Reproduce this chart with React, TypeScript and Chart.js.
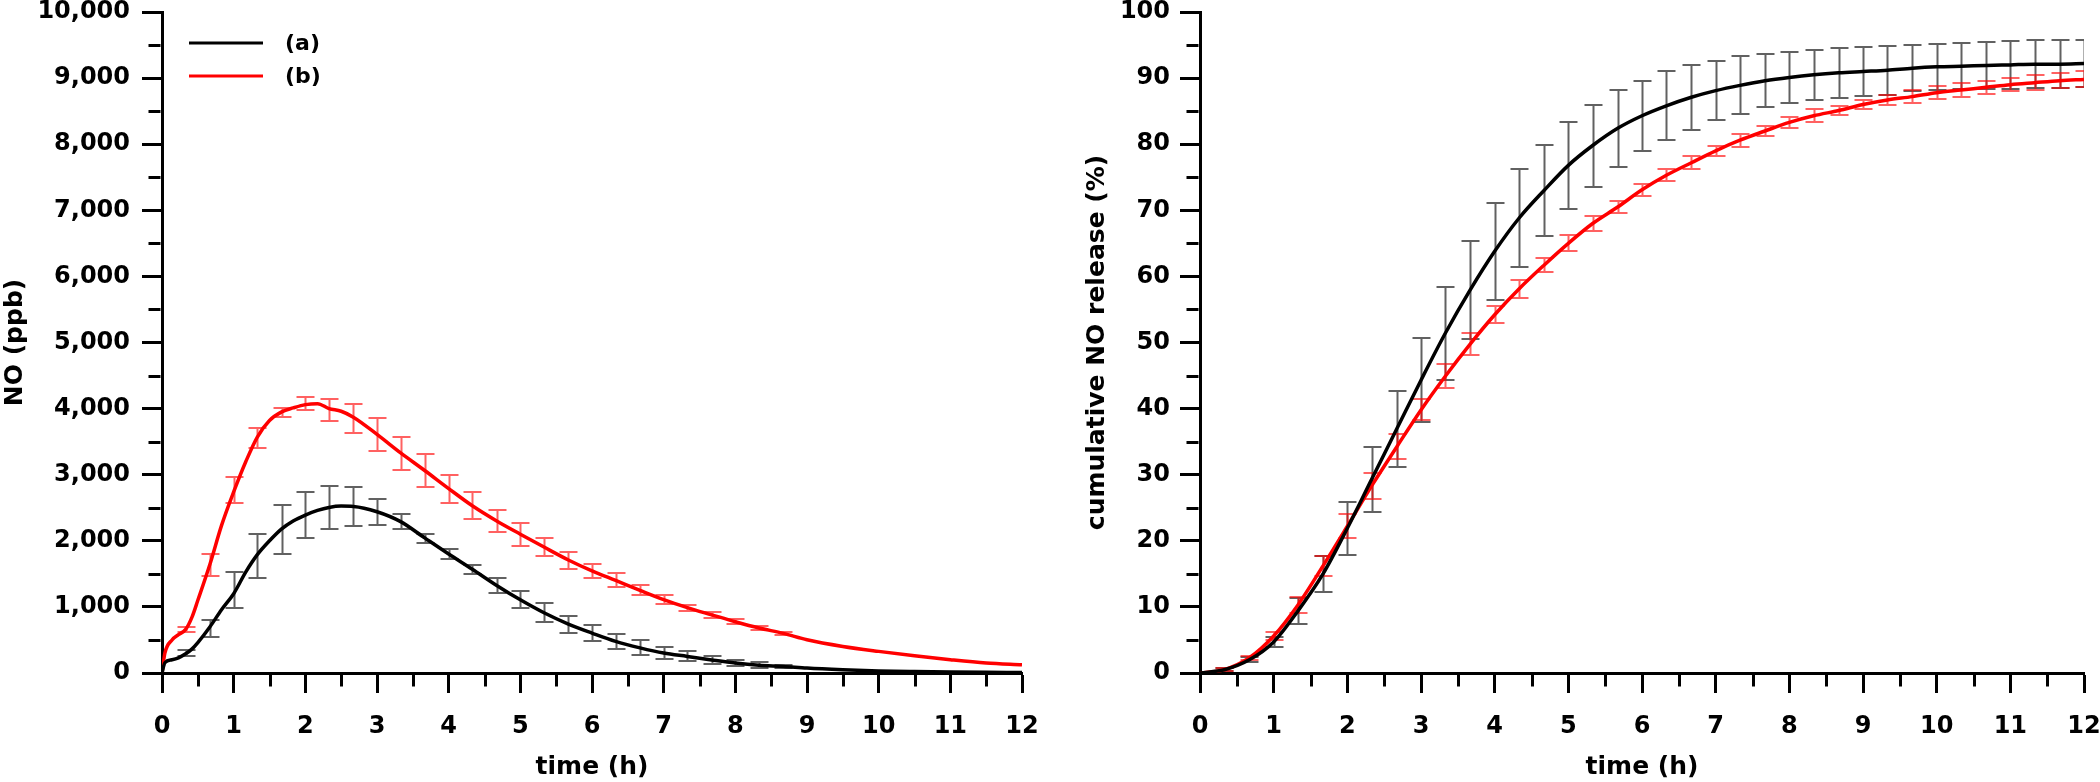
import React, { useEffect, useRef } from "react";
import { Chart, registerables } from "chart.js";

Chart.register(...registerables);

const FONT = "'DejaVu Sans', 'Liberation Sans', sans-serif";

// ---------- Left panel: NO (ppb) ----------
const seriesLabels = ["(a)", "(b)"];
const noTimes = [0, 0.04, 0.14, 0.23, 0.33, 0.42, 0.5, 0.67, 0.83, 1, 1.17, 1.33, 1.5, 1.67, 1.83, 2, 2.17, 2.33, 2.5, 2.67, 3, 3.33, 3.67, 4, 4.33, 4.67, 5, 5.33, 5.67, 6, 6.33, 6.67, 7, 7.33, 7.67, 8, 8.33, 8.67, 9, 9.5, 10, 10.5, 11, 11.5, 12];
const noA = [0, 155, 200, 230, 290, 365, 460, 700, 957, 1200, 1530, 1790, 2000, 2180, 2300, 2390, 2460, 2505, 2525, 2520, 2440, 2290, 2040, 1800, 1570, 1325, 1107, 911, 740, 604, 478, 380, 302, 251, 198, 151, 118, 100, 75, 50, 32, 22, 15, 10, 8];
const noB = [0, 300, 500, 580, 660, 850, 1100, 1650, 2230, 2740, 3200, 3570, 3820, 3950, 4010, 4060, 4075, 4000, 3960, 3870, 3610, 3330, 3060, 2790, 2530, 2300, 2100, 1905, 1710, 1545, 1400, 1250, 1110, 990, 880, 775, 680, 600, 503, 402, 327, 261, 201, 151, 125];

const noBarTimes = [0.33, 0.67, 1, 1.33, 1.67, 2, 2.33, 2.67, 3, 3.33, 3.67, 4, 4.33, 4.67, 5, 5.33, 5.67, 6, 6.33, 6.67, 7, 7.33, 7.67, 8, 8.33, 8.67];
const noBarMeanA = [300, 670, 1258, 1769, 2172, 2389, 2505, 2520, 2432, 2288, 2031, 1797, 1568, 1321, 1107, 911, 737, 604, 478, 380, 302, 251, 198, 151, 118, 100];
const noBarSdA = [50, 130, 276, 335, 370, 350, 330, 290, 200, 113, 68, 75, 68, 113, 126, 146, 128, 126, 116, 113, 91, 75, 63, 50, 43, 25];
const noBarMeanB = [660, 1636, 2769, 3559, 3940, 4073, 3977, 3852, 3607, 3323, 3061, 2781, 2532, 2304, 2097, 1905, 1700, 1545, 1400, 1250, 1110, 990, 880, 775, 680, 600];
const noBarSdB = [40, 166, 191, 151, 63, 96, 166, 216, 244, 252, 252, 214, 201, 164, 169, 133, 126, 108, 106, 75, 63, 45, 43, 38, 33, 25];

// ---------- Right panel: cumulative NO release (%) ----------
const cumTimes = [0, 0.33, 0.67, 1, 1.33, 1.67, 2, 2.33, 2.67, 3, 3.33, 3.67, 4, 4.33, 4.67, 5, 5.33, 5.67, 6, 6.33, 6.67, 7, 7.33, 7.67, 8, 8.33, 8.67, 9, 9.33, 9.67, 10, 10.33, 10.67, 11, 11.33, 11.67, 12];
const cumA = [0, 0.5, 2.0, 4.7, 9.4, 15.0, 21.9, 29.3, 36.9, 44.3, 51.4, 58.0, 63.8, 68.8, 73.0, 76.8, 79.8, 82.4, 84.3, 85.8, 87.1, 88.1, 88.9, 89.6, 90.1, 90.5, 90.8, 91.0, 91.2, 91.5, 91.7, 91.8, 91.9, 92.0, 92.1, 92.1, 92.2];
const cumSdA = [null, 0.2, 0.4, 0.8, 2.0, 2.7, 4.0, 4.9, 5.7, 6.4, 7.0, 7.4, 7.3, 7.4, 6.9, 6.6, 6.2, 5.8, 5.3, 5.2, 4.9, 4.5, 4.4, 4.0, 3.8, 3.8, 3.8, 3.7, 3.7, 3.5, 3.5, 3.5, 3.5, 3.6, 3.6, 3.6, 3.6];
const cumB = [0, 0.5, 2.3, 5.6, 10.3, 16.2, 22.2, 28.3, 34.2, 39.8, 44.9, 49.8, 54.2, 58.1, 61.7, 65.0, 68.0, 70.5, 73.1, 75.3, 77.2, 79.0, 80.6, 82.0, 83.3, 84.3, 85.1, 86.0, 86.7, 87.2, 87.8, 88.2, 88.6, 89.0, 89.3, 89.6, 89.8];
const cumSdB = [null, 0.2, 0.3, 0.6, 1.2, 1.5, 1.8, 2.0, 1.9, 1.6, 1.8, 1.7, 1.3, 1.3, 1.1, 1.2, 1.1, 0.9, 0.9, 0.9, 1.0, 0.8, 0.95, 0.8, 0.8, 1.0, 0.75, 0.75, 0.75, 0.95, 0.95, 1.05, 1.0, 1.0, 1.1, 1.1, 1.2];

const toPoints = (xs: number[], ys: number[]) => xs.map((x, i) => ({ x, y: ys[i] }));

const errorBarPlugin = {
  id: "errorBars",
  beforeDatasetsDraw(chart: any) {
    const { ctx, chartArea } = chart;
    const x = chart.scales.x;
    const y = chart.scales.y;
    ctx.save();
    ctx.beginPath();
    ctx.rect(chartArea.left, chartArea.top - 30, chartArea.right - chartArea.left, chartArea.bottom - chartArea.top + 30);
    ctx.clip();
    chart.data.datasets.forEach((ds: any) => {
      const eb = ds.errorBars;
      if (!eb) return;
      ctx.strokeStyle = eb.color;
      ctx.lineWidth = 2;
      eb.times.forEach((t: number, i: number) => {
        const m = eb.means[i];
        const s = eb.sds[i];
        if (s == null) return;
        const px = Math.round(x.getPixelForValue(t)) + 0.5;
        const top = Math.round(y.getPixelForValue(m + s));
        const bot = Math.round(y.getPixelForValue(m - s));
        ctx.beginPath();
        ctx.moveTo(px, top);
        ctx.lineTo(px, bot);
        ctx.moveTo(px - 9, top);
        ctx.lineTo(px + 9, top);
        ctx.moveTo(px - 9, bot);
        ctx.lineTo(px + 9, bot);
        ctx.stroke();
      });
    });
    ctx.restore();
  },
};

const minorTickPlugin = {
  id: "minorTicks",
  afterDraw(chart: any) {
    const { ctx, chartArea } = chart;
    const x = chart.scales.x;
    const y = chart.scales.y;
    const mids = (s: any) => s.ticks.slice(1).map((t: any, i: number) => (s.ticks[i].value + t.value) / 2);
    ctx.save();
    ctx.strokeStyle = "#000";
    ctx.lineWidth = 3;
    ctx.beginPath();
    mids(x).forEach((v: number) => {
      const p = Math.round(x.getPixelForValue(v)) + 0.5;
      ctx.moveTo(p, chartArea.bottom + 1.5);
      ctx.lineTo(p, chartArea.bottom + 13.5);
    });
    mids(y).forEach((v: number) => {
      const p = Math.round(y.getPixelForValue(v)) + 0.5;
      ctx.moveTo(chartArea.left - 1.5, p);
      ctx.lineTo(chartArea.left - 13.5, p);
    });
    ctx.stroke();
    ctx.restore();
  },
};

const insetLegendPlugin = {
  id: "insetLegend",
  afterDraw(chart: any, _args: any, opts: any) {
    if (!opts || !opts.show) return;
    const { ctx, chartArea } = chart;
    ctx.save();
    ctx.font = `bold 22px ${FONT}`;
    ctx.textBaseline = "middle";
    chart.data.datasets.forEach((ds: any, i: number) => {
      const yy = chartArea.top + 31 + i * 33;
      const x0 = chartArea.left + 27;
      ctx.strokeStyle = ds.borderColor;
      ctx.lineWidth = 3;
      ctx.beginPath();
      ctx.moveTo(x0, yy);
      ctx.lineTo(x0 + 74, yy);
      ctx.stroke();
      ctx.fillStyle = "#000";
      ctx.fillText(ds.label, x0 + 96, yy + 1);
    });
    ctx.restore();
  },
};

const tickFont = { family: FONT, size: 24, weight: "bold" as const, lineHeight: 1 };
const titleFont = { family: FONT, size: 25, weight: "bold" as const, lineHeight: 1.2 };

function makeScales(opts: {
  yMax: number;
  yStep: number;
  yTitle: string;
  yWidth: number;
  yTitlePad: number;
  yFormat: (v: number) => string;
  yTickPad: number;
}) {
  const axisCommon = {
    border: { display: true, color: "#000", width: 3 },
    grid: { display: true, drawOnChartArea: false, drawTicks: true, tickLength: 20, tickWidth: 3, tickColor: "#000" },
  };
  return {
    x: {
      type: "linear" as const,
      min: 0,
      max: 12,
      ...axisCommon,
      ticks: { stepSize: 1, color: "#000", font: tickFont, padding: 22, maxRotation: 0, autoSkip: false },
      title: { display: true, text: "time (h)", color: "#000", font: titleFont, padding: { top: 0, bottom: 0 } },
      afterFit: (s: any) => {
        s.height = 109;
        s.paddingLeft = 0;
        s.paddingRight = 0;
      },
    },
    y: {
      type: "linear" as const,
      min: 0,
      max: opts.yMax,
      ...axisCommon,
      ticks: { stepSize: opts.yStep, color: "#000", font: tickFont, padding: opts.yTickPad, callback: (v: any) => opts.yFormat(Number(v)) },
      title: { display: true, text: opts.yTitle, color: "#000", font: titleFont, padding: { top: opts.yTitlePad, bottom: 0 } },
      afterFit: (s: any) => {
        s.width = opts.yWidth;
        s.paddingTop = 0;
        s.paddingBottom = 0;
      },
    },
  };
}

const lineDs = (label: string, color: string, pts: any[], eb: any) => ({
  label,
  data: pts,
  borderColor: color,
  backgroundColor: color,
  borderWidth: 3.5,
  pointRadius: 0,
  cubicInterpolationMode: "monotone" as const,
  errorBars: eb,
});

export default function App() {
  const leftRef = useRef<HTMLCanvasElement | null>(null);
  const rightRef = useRef<HTMLCanvasElement | null>(null);

  useEffect(() => {
    const common = {
      responsive: false,
      animation: false as const,
      devicePixelRatio: 1,
      events: [] as any[],
    };
    const left = new Chart(leftRef.current as HTMLCanvasElement, {
      type: "line",
      data: {
        datasets: [
          lineDs(seriesLabels[0], "#000000", toPoints(noTimes, noA), { times: noBarTimes, means: noBarMeanA, sds: noBarSdA, color: "rgba(0,0,0,0.62)" }),
          lineDs(seriesLabels[1], "#ff0000", toPoints(noTimes, noB), { times: noBarTimes, means: noBarMeanB, sds: noBarSdB, color: "rgba(255,0,0,0.62)" }),
        ] as any,
      },
      options: {
        ...common,
        layout: { padding: { top: 12, right: 28, bottom: 0, left: 0 } },
        plugins: { legend: { display: false }, tooltip: { enabled: false }, insetLegend: { show: true } } as any,
        scales: makeScales({
          yMax: 10000,
          yStep: 1000,
          yTitle: "NO (ppb)",
          yWidth: 162,
          yTitlePad: 0,
          yFormat: (v) => v.toLocaleString("en-US"),
          yTickPad: 12,
        }) as any,
      },
      plugins: [errorBarPlugin, minorTickPlugin, insetLegendPlugin],
    });
    const right = new Chart(rightRef.current as HTMLCanvasElement, {
      type: "line",
      data: {
        datasets: [
          lineDs(seriesLabels[0], "#000000", toPoints(cumTimes, cumA), { times: cumTimes, means: cumA, sds: cumSdA, color: "rgba(0,0,0,0.62)" }),
          lineDs(seriesLabels[1], "#ff0000", toPoints(cumTimes, cumB), { times: cumTimes, means: cumB, sds: cumSdB, color: "rgba(255,0,0,0.62)" }),
        ] as any,
      },
      options: {
        ...common,
        layout: { padding: { top: 12, right: 16, bottom: 0, left: 0 } },
        plugins: { legend: { display: false }, tooltip: { enabled: false }, insetLegend: { show: false } } as any,
        scales: makeScales({
          yMax: 100,
          yStep: 10,
          yTitle: "cumulative NO release (%)",
          yWidth: 150,
          yTitlePad: 32,
          yFormat: (v) => String(v),
          yTickPad: 10,
        }) as any,
      },
      plugins: [errorBarPlugin, minorTickPlugin, insetLegendPlugin],
    });
    return () => {
      left.destroy();
      right.destroy();
    };
  }, []);

  return (
    <div style={{ position: "fixed", left: 0, top: 0, width: 2100, height: 782, background: "#fff", overflow: "hidden" }}>
      <canvas ref={leftRef} width={1050} height={782} style={{ position: "absolute", left: 0, top: 0, width: 1050, height: 782 }} />
      <canvas ref={rightRef} width={1050} height={782} style={{ position: "absolute", left: 1050, top: 0, width: 1050, height: 782 }} />
    </div>
  );
}
